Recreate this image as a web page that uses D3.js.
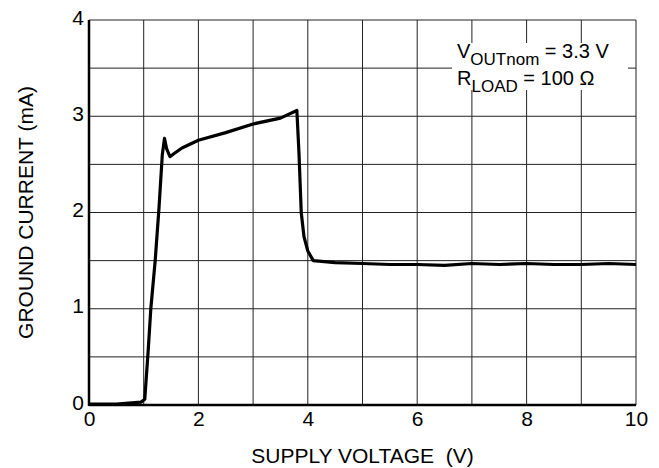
<!DOCTYPE html>
<html>
<head>
<meta charset="utf-8">
<script src="https://cdn.jsdelivr.net/npm/d3@7"></script>
<style>
body { margin: 0; background: #fff; }
text { font-family: "Liberation Sans", Arial, sans-serif; fill: #000; }
</style>
</head>
<body>
<script>
// curve
var voltage = [0, 0.5, 0.95, 1.02, 1.08, 1.13, 1.21, 1.28, 1.34, 1.38, 1.42, 1.48, 1.55, 1.7, 2.0, 2.5, 3.0, 3.5, 3.8, 3.84, 3.88, 3.93, 4.0, 4.1, 4.5, 5.0, 5.5, 6.0, 6.5, 7.0, 7.5, 8.0, 8.5, 9.0, 9.5, 10.0];
var current = [0.01, 0.01, 0.03, 0.06, 0.55, 1.0, 1.5, 2.05, 2.6, 2.77, 2.66, 2.58, 2.61, 2.67, 2.75, 2.83, 2.92, 2.98, 3.06, 2.6, 2.0, 1.75, 1.6, 1.5, 1.48, 1.47, 1.46, 1.46, 1.45, 1.47, 1.46, 1.47, 1.46, 1.46, 1.47, 1.46];

var xTicks = [0, 2, 4, 6, 8, 10];
var yTicks = [0, 1, 2, 3, 4];

var W = 659, H = 468;
var mLeft = 89, mRight = 636, mTop = 20, mBottom = 405;
var fs = "21px";

var svg = d3.select("body").append("svg")
  .attr("width", W)
  .attr("height", H);

var x = d3.scaleLinear().domain([0, 10]).range([mLeft, mRight]);
var y = d3.scaleLinear().domain([0, 4]).range([mBottom, mTop]);

// grid
svg.append("g").selectAll("line")
  .data(d3.range(0, 10.01, 1))
  .enter().append("line")
  .attr("x1", d => x(d)).attr("x2", d => x(d))
  .attr("y1", mTop).attr("y2", mBottom)
  .attr("stroke", "#222").attr("stroke-width", 1);

svg.append("g").selectAll("line")
  .data(d3.range(0, 4.01, 0.5))
  .enter().append("line")
  .attr("x1", mLeft).attr("x2", mRight)
  .attr("y1", d => y(d)).attr("y2", d => y(d))
  .attr("stroke", "#222").attr("stroke-width", 1);

// legend box (white behind text)
svg.append("rect")
  .attr("x", 452).attr("y", 43)
  .attr("width", 176).attr("height", 47)
  .attr("fill", "#fff");

var leg = svg.append("g").style("font-size", "20px");
var t1 = leg.append("text").attr("x", 457).attr("y", 58);
t1.append("tspan").text("V");
t1.append("tspan").attr("dy", 7).style("font-size", "17px").text("OUTnom");
t1.append("tspan").attr("dy", -7).text(" = 3.3 V");
var t2 = leg.append("text").attr("x", 457).attr("y", 85);
t2.append("tspan").text("R");
t2.append("tspan").attr("dy", 7).style("font-size", "17px").text("LOAD");
t2.append("tspan").attr("dy", -7).text(" = 100 \u03A9");

// axes lines: thick left & bottom
svg.append("line")
  .attr("x1", mLeft).attr("x2", mLeft).attr("y1", mTop).attr("y2", mBottom + 1)
  .attr("stroke", "#000").attr("stroke-width", 2.5);
svg.append("line")
  .attr("x1", mLeft).attr("x2", mRight).attr("y1", mBottom).attr("y2", mBottom)
  .attr("stroke", "#000").attr("stroke-width", 2.5);

// tick labels
var xAxis = d3.axisBottom(x).tickValues(xTicks).tickSize(0).tickPadding(6);
var gx = svg.append("g").attr("transform", "translate(0," + mBottom + ")").call(xAxis);
gx.select(".domain").remove();
gx.selectAll("text").style("font-size", fs).style("font-family", "Liberation Sans, Arial, sans-serif");

var yAxis = d3.axisLeft(y).tickValues(yTicks).tickFormat(d3.format("d")).tickSize(0).tickPadding(5);
var gy = svg.append("g").attr("transform", "translate(" + mLeft + ",0)").call(yAxis);
gy.select(".domain").remove();
gy.selectAll("text").style("font-size", fs).style("font-family", "Liberation Sans, Arial, sans-serif")
  .attr("dy", "0.2em");

// curve
svg.append("path")
  .datum(current)
  .attr("d", d3.line().x((d, i) => x(voltage[i])).y(d => y(d)))
  .attr("fill", "none")
  .attr("stroke", "#000")
  .attr("stroke-width", 3.2)
  .attr("stroke-linejoin", "round");

// axis titles
svg.append("text")
  .attr("x", (mLeft + mRight) / 2).attr("y", 463)
  .attr("text-anchor", "middle")
  .style("font-size", fs)
  .style("white-space", "pre")
  .text("SUPPLY VOLTAGE  (V)");

svg.append("text")
  .attr("transform", "translate(33," + (mTop + mBottom) / 2 + ") rotate(-90)")
  .attr("text-anchor", "middle")
  .style("font-size", fs)
  .text("GROUND CURRENT (mA)");
</script>
</body>
</html>
